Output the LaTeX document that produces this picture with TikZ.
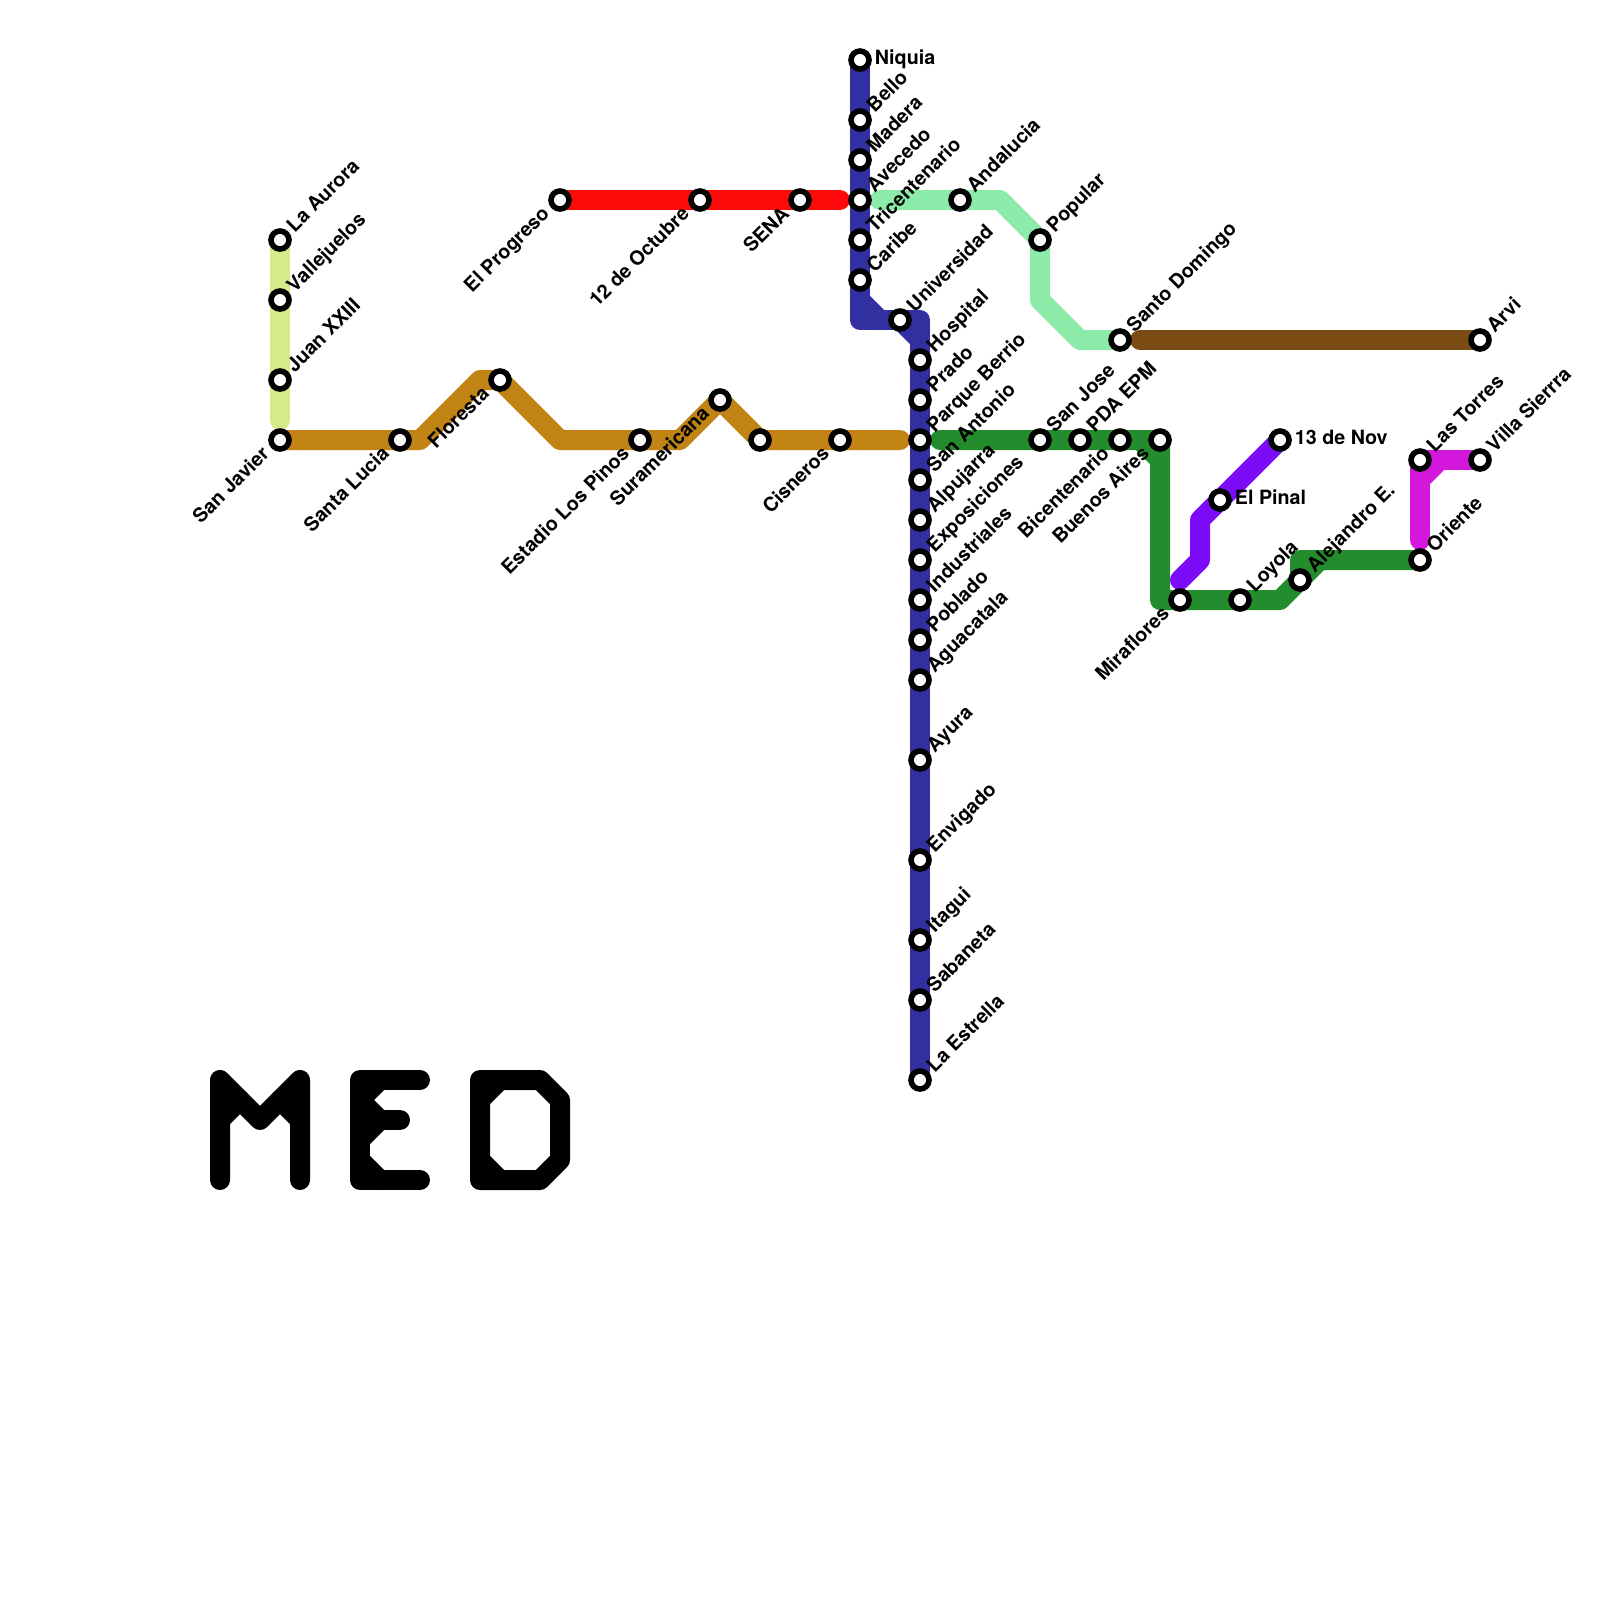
\documentclass[tikz,border=0pt]{standalone}
\usepackage{fontspec}
\setmainfont{TeX Gyre Heros}
\usetikzlibrary{backgrounds}
\definecolor{lineblue}{HTML}{322FA0}
\definecolor{linered}{HTML}{FF0A0A}
\definecolor{linemint}{HTML}{8DEBA9}
\definecolor{lineochre}{HTML}{C18414}
\definecolor{linegreen}{HTML}{238C2C}
\definecolor{linepurple}{HTML}{7A0CF7}
\definecolor{linemagenta}{HTML}{D317DC}
\definecolor{linebrown}{HTML}{7B4B14}
\definecolor{lineyellow}{HTML}{D5EB8B}
\tikzset{
  metro/.style={line width=.25cm, line cap=round, line join=round},
  stop/.style={circle, draw=black, fill=white, line width=.07cm, minimum size=.225cm, inner sep=0pt},
  lab/.style={font=\fontsize{7}{8}\selectfont\bfseries, inner sep=0pt},
  upr/.style={lab, rotate=45, anchor=base west, xshift=.186cm, yshift=-.07cm},
  dnl/.style={lab, rotate=45, anchor=base east, xshift=-.211cm, yshift=-.047cm},
  rgt/.style={lab, anchor=base west, xshift=.18cm, yshift=-.06cm},
}
\begin{document}
\begin{tikzpicture}[x=.25cm,y=-.25cm]
\useasboundingbox (0,0) rectangle (80,80);
% yellow line
\path (14,12) node [stop] (aurora) {} node [upr] (auroratxt) {La Aurora};
\path (14,15) node [stop] (vallejuelos) {} node [upr] (vallejuelostxt) {Vallejuelos};
\path (14,19) node [stop] (juan) {} node [upr] (juantxt) {Juan XXIII};
% ochre line
\path (14,22) node [stop] (javier) {} node [dnl] (javiertxt) {San Javier};
\path (20,22) node [stop] (lucia) {} node [dnl] (luciatxt) {Santa Lucia};
\path (25,19) node [stop] (floresta) {} node [dnl] (florestatxt) {Floresta};
\path (32,22) node [stop] (pinos) {} node [dnl] (pinostxt) {Estadio Los Pinos};
\path (36,20) node [stop] (suramericana) {} node [dnl] (suramericanatxt) {Suramericana};
\path (38,22) node [stop] (nameless) {};
\path (42,22) node [stop] (cisneros) {} node [dnl] (cisnerostxt) {Cisneros};
% red line
\path (28,10) node [stop] (progreso) {} node [dnl] (progresotxt) {El Progreso};
\path (35,10) node [stop] (octubre) {} node [dnl] (octubretxt) {12 de Octubre};
\path (40,10) node [stop] (sena) {} node [dnl] (senatxt) {SENA};
% blue line
\path (43,3) node [stop] (niquia) {} node [rgt] (niquiatxt) {Niquia};
\path (43,6) node [stop] (bello) {} node [upr] (bellotxt) {Bello};
\path (43,8) node [stop] (madera) {} node [upr] (maderatxt) {Madera};
\path (43,10) node [stop] (avecedo) {} node [upr] (avecedotxt) {Avecedo};
\path (43,12) node [stop] (tricentenario) {} node [upr] (tricentenariotxt) {Tricentenario};
\path (43,14) node [stop] (caribe) {} node [upr] (caribetxt) {Caribe};
\path (45,16) node [stop] (universidad) {} node [upr] (universidadtxt) {Universidad};
\path (46,18) node [stop] (hospital) {} node [upr] (hospitaltxt) {Hospital};
\path (46,20) node [stop] (prado) {} node [upr] (pradotxt) {Prado};
\path (46,22) node [stop] (berrio) {} node [upr] (berriotxt) {Parque Berrio};
\path (46,24) node [stop] (antonio) {} node [upr] (antoniotxt) {San Antonio};
\path (46,26) node [stop] (alpujarra) {} node [upr] (alpujarratxt) {Alpujarra};
\path (46,28) node [stop] (exposiciones) {} node [upr] (exposicionestxt) {Exposiciones};
\path (46,30) node [stop] (industriales) {} node [upr] (industrialestxt) {Industriales};
\path (46,32) node [stop] (poblado) {} node [upr] (pobladotxt) {Poblado};
\path (46,34) node [stop] (aguacatala) {} node [upr] (aguacatalatxt) {Aguacatala};
\path (46,38) node [stop] (ayura) {} node [upr] (ayuratxt) {Ayura};
\path (46,43) node [stop] (envigado) {} node [upr] (envigadotxt) {Envigado};
\path (46,47) node [stop] (itagui) {} node [upr] (itaguitxt) {Itagui};
\path (46,50) node [stop] (sabaneta) {} node [upr] (sabanetatxt) {Sabaneta};
\path (46,54) node [stop] (estrella) {} node [upr] (estrellatxt) {La Estrella};
% mint and brown lines
\path (48,10) node [stop] (andalucia) {} node [upr] (andaluciatxt) {Andalucia};
\path (52,12) node [stop] (popular) {} node [upr] (populartxt) {Popular};
\path (56,17) node [stop] (domingo) {} node [upr] (domingotxt) {Santo Domingo};
\path (74,17) node [stop] (arvi) {} node [upr] (arvitxt) {Arvi};
% green line
\path (52,22) node [stop] (jose) {} node [upr] (josetxt) {San Jose};
\path (54,22) node [stop] (epm) {} node [upr] (epmtxt) {PDA EPM};
\path (56,22) node [stop] (bicentenario) {} node [dnl] (bicentenariotxt) {Bicentenario};
\path (58,22) node [stop] (aires) {} node [dnl] (airestxt) {Buenos Aires};
\path (59,30) node [stop] (miraflores) {} node [dnl] (mirafloresxt) {Miraflores};
\path (62,30) node [stop] (loyola) {} node [upr] (loyolatxt) {Loyola};
\path (65,29) node [stop] (alejandro) {} node [upr] (alejandrotxt) {Alejandro E.};
\path (71,28) node [stop] (oriente) {} node [upr] (orientetxt) {Oriente};
% purple and magenta lines
\path (61,25) node [stop] (pinal) {} node [rgt] (pinaltxt) {El Pinal};
\path (64,22) node [stop] (noviembre) {} node [rgt] (noviembretxt) {13 de Nov};
\path (71,23) node [stop] (torres) {} node [upr] (torrestxt) {Las Torres};
\path (74,23) node [stop] (sierra) {} node [upr] (sierratxt) {Villa Sierrra};
% free ends and bends
\coordinate (yellowend) at (14,21);
\coordinate (ochrea) at (21,22);
\coordinate (ochreb) at (24,19);
\coordinate (ochrec) at (28,22);
\coordinate (ochred) at (34,22);
\coordinate (ochreend) at (45,22);
\coordinate (redend) at (42,10);
\coordinate (blueelbow) at (43,16);
\coordinate (bluea) at (43,15);
\coordinate (blueb) at (44,16);
\coordinate (bluec) at (46,16);
\coordinate (blued) at (46,17);
\coordinate (mintstart) at (44,10);
\coordinate (minta) at (50,10);
\coordinate (mintb) at (52,15);
\coordinate (mintc) at (54,17);
\coordinate (brownstart) at (57,17);
\coordinate (greenstart) at (47,22);
\coordinate (greena) at (57,22);
\coordinate (greenb) at (58,23);
\coordinate (greenc) at (58,30);
\coordinate (greend) at (64,30);
\coordinate (greene) at (65,28);
\coordinate (greenf) at (66,28);
\coordinate (purplestart) at (59,29);
\coordinate (purplea) at (60,28);
\coordinate (purpleb) at (60,26);
\coordinate (magentaend) at (71,27);
\coordinate (magentaa) at (71,24);
\coordinate (magentab) at (72,23);
\begin{scope}[on background layer]
\draw [metro, lineyellow] (aurora.center) -- (yellowend);
\draw [metro, lineochre] (javier.center) -- (ochrea) -- (ochreb) -- (floresta.center)
   -- (ochrec) -- (ochred) -- (suramericana.center) -- (nameless.center) -- (ochreend);
\draw [metro, linered] (progreso.center) -- (redend);
\draw [metro, lineblue] (niquia.center) -- (blueelbow) -- (bluec) -- (estrella.center);
\draw [metro, lineblue] (bluea) -- (blueb);
\draw [metro, lineblue] (universidad.center) -- (blued);
\draw [metro, linemint] (mintstart) -- (minta) -- (popular.center) -- (mintb) -- (mintc) -- (domingo.center);
\draw [metro, linebrown] (brownstart) -- (arvi.center);
\draw [metro, linegreen] (greenstart) -- (aires.center) -- (greenc) -- (greend) -- (alejandro.center)
   -- (greene) -- (oriente.center);
\draw [metro, linegreen] (greena) -- (greenb);
\draw [metro, linegreen] (alejandro.center) -- (greenf);
\draw [metro, linepurple] (purplestart) -- (purplea) -- (purpleb) -- (noviembre.center);
\draw [metro, linemagenta] (magentaend) -- (torres.center) -- (sierra.center);
\draw [metro, linemagenta] (magentaa) -- (magentab);
\end{scope}
% city code
\draw [metro, black] (11,59) -- (11,54) -- (13,56) -- (15,54) -- (15,59);
\draw [metro, black] (11,56) -- (12,55);
\draw [metro, black] (15,56) -- (14,55);
\draw [metro, black] (21,54) -- (18,54) -- (18,59) -- (21,59);
\draw [metro, black] (19,54) -- (18,55) -- (19,56) -- (18,57);
\draw [metro, black] (18,58) -- (19,59);
\draw [metro, black] (18,56) -- (20,56);
\draw [metro, black] (24,54) -- (27,54) -- (28,55) -- (28,58) -- (27,59) -- (24,59) -- cycle;
\draw [metro, black] (24,55) -- (25,54);
\draw [metro, black] (24,58) -- (25,59);
\end{tikzpicture}
\end{document}
